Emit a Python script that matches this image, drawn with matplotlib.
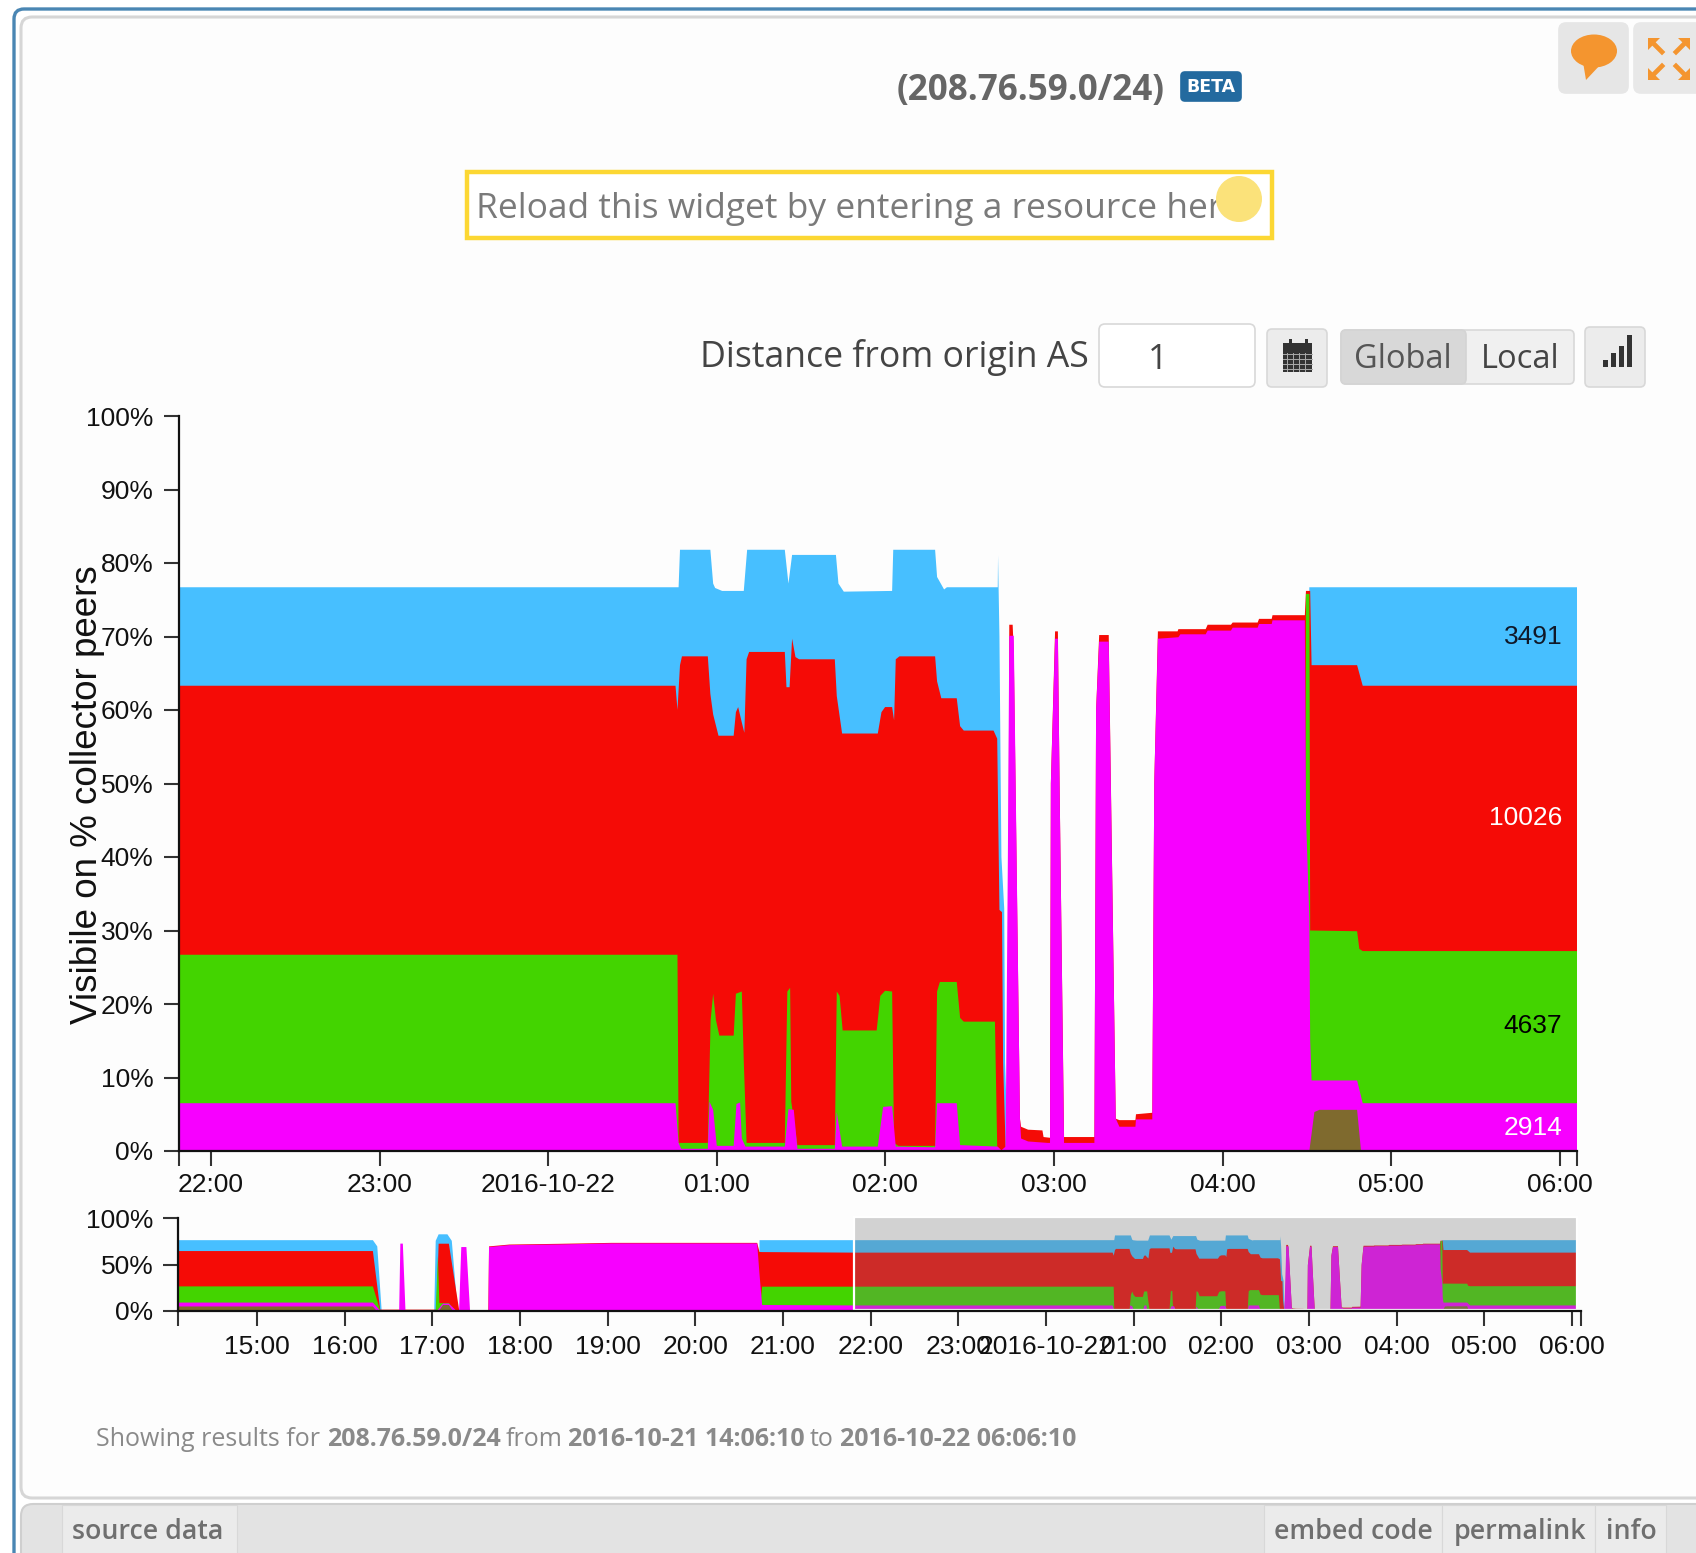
import matplotlib
matplotlib.use("Agg")
import matplotlib.pyplot as plt
from matplotlib.patches import Rectangle, FancyBboxPatch, Circle, Polygon, Ellipse

W, H = 1696, 1553
SANS = "Liberation Sans"
OPEN = "Open Sans"

# All times are minutes relative to 2016-10-22 00:00; all values are cumulative % of peers.
T_START, T_END = -593.83, 366.17
ZOOM_START = -131.6

blue_t = [-593.83, -461, -458, -455, -419, -418, -416, -410, -407, -403, -196.8, -196.4, 46.4, 46.9, 57.7, 58.7, 59.4, 61.9, 69.6, 70.8, 84.2, 85.5, 86.8, 102.4, 103.3, 105.2, 122.4, 122.8, 137.7, 138.4, 140.9, 141.9, 160, 160.1, 160.6, 161.3, 162.3, 162.6, 163.6, 269.3, 270.6, 270.9, 366.17]
blue_v = [76.7, 76.7, 70, 1, 1, 76, 83, 83, 76, 1, 1, 76.7, 76.7, 81.8, 81.8, 77.2, 76.6, 76.2, 76.2, 81.8, 81.8, 77.2, 81.1, 81.1, 77.2, 76.1, 76.2, 81.8, 81.8, 78.1, 76.4, 76.7, 76.7, 81, 70, 40, 33, 12, 0.5, 0.5, 72, 76.7, 76.7]

red_t = [-593.83, -461, -456, -417.5, -416, -409, -402, -400, -382, -381.5, -367.5, -332.6, -297.7, -198, -196.4, -194.6, -131, 45.3, 46, 46.9, 47.6, 56.8, 57.7, 58.7, 60.6, 66, 66.8, 67.6, 68.9, 69.8, 70.6, 71.5, 84.2, 84.8, 85.9, 86.8, 88, 89.3, 102, 102.7, 104.6, 117.3, 118.6, 119.9, 122.4, 123.1, 123.7, 125, 137.7, 138.4, 139.9, 145.4, 146.6, 147.9, 158.5, 159.8, 160.6, 161.5, 161.9, 162.8, 163.6, 164.1, 165.3, 165.7, 167.9, 168.3, 170.8, 175.9, 176.3, 178.6, 178.9, 180.4, 181.4, 182, 183.6, 194.4, 195, 196.1, 199.5, 202, 203.3, 209, 209.2, 215, 215.7, 217, 224, 224.3, 234, 234.7, 243, 243.6, 252.5, 253, 257.5, 257.8, 269.3, 269.7, 271.2, 271.7, 287.9, 289.9, 366.17]
red_v = [65, 65, 2, 2, 72.9, 72.9, 2, 1, 1, 70, 72, 72.8, 73.8, 73.8, 64, 63.9, 63.3, 63.3, 60, 66.1, 67.3, 67.3, 62.2, 59.4, 56.5, 56.5, 59.7, 60.4, 58.3, 56.9, 66.9, 67.9, 67.9, 63.1, 63.1, 69.7, 67.2, 66.9, 66.9, 61.9, 56.8, 56.8, 59.7, 60.4, 60.4, 58.6, 66.9, 67.3, 67.3, 63.9, 61.6, 61.6, 57.8, 57.2, 57.2, 56.1, 32.8, 32.5, 12, 0.5, 0.5, 71.6, 71.6, 68, 4.4, 3.3, 2.9, 2.8, 1.9, 1.8, 50, 70.7, 70.7, 50, 1.9, 1.9, 60, 70.2, 70.2, 4.4, 4.2, 4.2, 5, 5.2, 50, 70.7, 70.7, 71, 71, 71.6, 71.6, 71.9, 71.9, 72.4, 72.4, 72.9, 72.9, 76.2, 76.2, 66.1, 66.1, 63.3, 63.3]

green_t = [-593.83, -461, -456, -418, -416.5, -415.5, -409, -404, -196.4, -194.6, 46, 46.4, 56.8, 57.8, 58.7, 59.7, 60.9, 66, 66.8, 68.9, 69.6, 70.6, 84.2, 85.1, 86.1, 86.5, 88.7, 102, 102.7, 103.7, 104.8, 116.9, 118.2, 119.9, 122.4, 123.1, 124.6, 137.7, 138.4, 139.4, 145.4, 146.6, 147.9, 159, 159.8, 160.6, 269.3, 269.7, 270.9, 271.2, 287.9, 288.7, 289.9, 366.17]
green_v = [27, 27, 1, 1, 60, 9, 9, 0, 0, 26.7, 26.7, 1.1, 1.1, 17.8, 21.4, 17.8, 15.7, 15.7, 21.4, 21.7, 12.2, 1.1, 1.1, 21.7, 22.2, 6.7, 0.8, 0.8, 21.7, 21.1, 16.4, 16.4, 21.1, 21.8, 21.7, 1.1, 0.7, 0.7, 21.7, 23, 23, 18.1, 17.6, 17.6, 0.6, 0.1, 0, 75.8, 75.8, 30, 29.9, 27.5, 27.2, 27.2]

magenta_t = [-593.83, -461, -456, -443, -442.2, -440.5, -438.7, -417, -413, -409, -404, -402, -400.5, -397, -394.5, -381.9, -381.5, -367.5, -332.6, -297.7, -198, -196.4, -194.6, -131, 45.3, 46.4, 47.3, 56.8, 57.4, 58.7, 60, 66, 67, 68.3, 68.9, 70.2, 84.2, 85.5, 87.4, 88.7, 102, 102.7, 104.6, 117.3, 119.2, 122.4, 123.7, 137.7, 138.4, 145.4, 146.6, 160, 161.3, 162.8, 163.6, 164.1, 165.7, 167.9, 168.3, 170.8, 177.8, 178.6, 178.9, 180.4, 181.4, 182, 183.6, 194.4, 195, 196.1, 199.5, 202, 203.3, 209, 209.2, 215, 215.7, 217, 224.3, 225, 234, 234.7, 243, 243.6, 252.5, 253, 257.5, 257.8, 269.3, 269.7, 270.9, 271.2, 271.7, 287.9, 289.9, 366.17]
magenta_v = [9.6, 9.6, 1, 1, 73, 73, 1, 1, 8.5, 8.5, 1, 0.5, 69.3, 69.3, 0.5, 0.5, 69.3, 71.4, 72.1, 73.2, 73.2, 40, 7, 6.5, 6.5, 1.1, 0.3, 0.3, 6.7, 5.6, 0.7, 0.7, 6.4, 6.6, 1.7, 0.6, 0.6, 5.7, 5.6, 0.3, 0.3, 5.3, 0.6, 0.6, 6, 6.1, 0.6, 0.5, 6.5, 6.5, 0.8, 0.6, 0.1, 0.6, 40, 70.1, 70.1, 4.4, 1.7, 1.3, 1.1, 1.1, 50, 69.7, 69.7, 50, 1.1, 1.1, 60, 69.3, 69.3, 4.4, 3.3, 3.3, 4.3, 4.3, 50, 69.7, 69.9, 70.3, 70.3, 70.8, 70.8, 71.2, 71.2, 71.7, 71.7, 72.2, 72.2, 45.6, 31.7, 15, 9.6, 9.6, 6.5, 6.5]

brown_t = [-593.83, -461, -458, -416, -413, -409, -406, 270.9, 272.7, 274.5, 287.9, 289.3, 366.17]
brown_v = [5.4, 5.4, 0, 0, 7, 7, 0, 0, 5.3, 5.6, 5.6, 0, 0]

series_names = ["3491", "10026", "4637", "2914"]
series_colors = ["#47bfff", "#f50b06", "#43d400", "#f700ff"]
series_text = ["#101828", "white", "black", "white"]
label_mid = [70.0, 45.3, 17.0, 3.1]
brown_color = "#7f6a2e"

y_main_ticks = [0, 10, 20, 30, 40, 50, 60, 70, 80, 90, 100]
y_mini_ticks = [0, 50, 100]
tick_minutes = [-120, -60, 0, 60, 120, 180, 240, 300, 360]
tick_labels = ["22:00", "23:00", "2016-10-22", "01:00", "02:00", "03:00", "04:00", "05:00", "06:00"]
mini_minutes = [-540, -480, -420, -360, -300, -240, -180] + tick_minutes
mini_labels = ["15:00", "16:00", "17:00", "18:00", "19:00", "20:00", "21:00"] + tick_labels

BG = "#fdfdfd"
fig = plt.figure(figsize=(W / 100, H / 100), dpi=100, facecolor="white")


def axes_px(l, t, r, b, **kw):
    return fig.add_axes([l / W, 1 - b / H, (r - l) / W, (b - t) / H], **kw)


page = axes_px(0, 0, W, H)
page.set_xlim(0, W)
page.set_ylim(H, 0)
page.axis("off")


def box(x0, y0, x1, y1, fc, ec="#d4d4d4", r=5, lw=1.2, z=2):
    page.add_patch(FancyBboxPatch((x0 + r, y0 + r), x1 - x0 - 2 * r, y1 - y0 - 2 * r,
                                  boxstyle=f"round,pad={r},rounding_size={r}", fc=fc, ec=ec, lw=lw, zorder=z))


# widget frame
box(14, 9, W + 60, H + 60, "white", "#4a86b3", r=10, lw=2.4, z=1)
box(21, 17, W + 60, 1498, BG, "#d6d6d6", r=11, lw=2.2, z=1.2)
box(21, 1504, W + 60, H + 60, "#e3e3e3", "#cfcfcf", r=12, lw=1.5, z=1.3)

# header
page.text(897, 91, "(208.76.59.0/24)", family=OPEN, weight="bold", fontsize=25.2, color="#666666", va="center", ha="left", zorder=5)
box(1181, 72, 1241, 101, "#236a9f", "#236a9f", r=4, z=4)
page.text(1211, 87, "BETA", family="DejaVu Sans", weight="bold", fontsize=12.5, color="white", va="center", ha="center", zorder=5)

# feedback + fullscreen buttons
box(1559, 23, 1628, 93, "#e6e6e6", "#e6e6e6", r=7, z=3)
box(1634, 23, W + 30, 93, "#e8e8e8", "#e8e8e8", r=7, z=3)
page.add_patch(Ellipse((1594, 51), 46, 33, fc="#f4952f", ec="none", zorder=4))
page.add_patch(Polygon([[1583, 62], [1601, 64], [1586, 80]], fc="#f4952f", ec="none", zorder=4))
for cx, cy, dx, dy in [(1656, 46, -1, -1), (1682, 46, 1, -1), (1656, 72, -1, 1), (1682, 72, 1, 1)]:
    page.plot([cx - 6 * dx, cx + 3 * dx], [cy - 6 * dy, cy + 3 * dy], color="#f4952f", lw=3.4, zorder=4)
    page.add_patch(Polygon([[cx + 8 * dx, cy + 8 * dy], [cx - 4 * dx, cy + 8 * dy], [cx + 8 * dx, cy - 4 * dy]],
                           fc="#f4952f", ec="none", zorder=4))

# resource input
page.add_patch(Rectangle((467, 172), 805, 66, fc="white", ec="#fcd733", lw=3.2, zorder=3))
page.text(476, 209, "Reload this widget by entering a resource her", family=OPEN, fontsize=25.5, color="#7a7a7a", va="center", ha="left", zorder=4)
page.add_patch(Circle((1239, 199), 23, fc="#fbe27a", ec="none", zorder=5))

# distance controls
page.text(700, 358, "Distance from origin AS", family=OPEN, fontsize=25.7, color="#444444", va="center", ha="left", zorder=4)
box(1099, 324, 1255, 387, "white", "#d8d8d8", r=6, z=3)
page.text(1158, 360, "1", family=OPEN, fontsize=25, color="#444444", va="center", ha="center", zorder=4)
box(1267, 329, 1327, 387, "#ececec", "#d8d8d8", r=5, z=3)
box(1341, 330, 1574, 384, "#f0f0f0", "#d8d8d8", r=5, z=3)
box(1341, 330, 1466, 384, "#d8d8d8", "#d4d4d4", r=5, z=3.1)
page.text(1403, 359, "Global", family=OPEN, fontsize=23.5, color="#555555", va="center", ha="center", zorder=4)
page.text(1520, 359, "Local", family=OPEN, fontsize=23.5, color="#444444", va="center", ha="center", zorder=4)
box(1585, 327, 1645, 387, "#ececec", "#d8d8d8", r=5, z=3)
page.add_patch(Rectangle((1283, 343), 29, 29, fc="#333333", ec="none", zorder=4))
for rx in (1289, 1305):
    page.add_patch(Rectangle((rx, 339), 2.5, 5, fc="#333333", ec="none", zorder=4))
for gx in range(1287, 1311, 6):
    page.plot([gx, gx], [353, 371], color="#aaaaaa", lw=0.7, zorder=4.1)
for gy in range(354, 371, 5):
    page.plot([1283, 1312], [gy, gy], color="#aaaaaa", lw=0.7, zorder=4.1)
for bx, btop in zip([1603, 1611, 1619, 1627], [360, 353, 346, 335]):
    page.add_patch(Rectangle((bx, btop), 5, 367 - btop, fc="#333333", ec="none", zorder=4))

# footer text
for x, s, w in [(96, "Showing results for", "normal"), (327, "208.76.59.0/24", "bold"), (506, "from", "normal"),
                (568, "2016-10-21 14:06:10", "bold"), (810, "to", "normal"), (840, "2016-10-22 06:06:10", "bold")]:
    page.text(x, 1439, s, family=OPEN, weight=w, fontsize=18, color="#8a8a8a", va="center", ha="left", zorder=4)
for x0, x1, tx, s in [(62, 237, 148, "source data"), (1264, 1442, 1353, "embed code"), (1442, 1595, 1520, "permalink"), (1595, 1666, 1631, "info")]:
    page.add_patch(Rectangle((x0, 1505), x1 - x0, 60, fc="#ebebeb", ec="#d8d8d8", lw=0.8, zorder=3))
    page.text(tx, 1532, s, family=OPEN, weight="semibold", fontsize=19.3, color="#6f6f6f", va="center", ha="center", zorder=4)


def draw_stack(ax):
    arts = []
    for t, v, c in zip([blue_t, red_t, green_t, magenta_t, brown_t],
                       [blue_v, red_v, green_v, magenta_v, brown_v],
                       series_colors + [brown_color]):
        arts.append(ax.fill_between(t, v, 0, color=c, lw=0, zorder=2))
    return arts


def style_axes(ax, xticks, xlabels, yticks, xlim, tickpad):
    ax.set_facecolor("none")
    for s in ("top", "right"):
        ax.spines[s].set_visible(False)
    for s in ("left", "bottom"):
        ax.spines[s].set_linewidth(1.6)
        ax.spines[s].set_color("#111111")
        ax.spines[s].set_zorder(5)
    ax.set_xlim(*xlim)
    ax.set_ylim(0, 100)
    ax.set_xticks(xticks, xlabels)
    ax.set_yticks(yticks, [f"{y}%" for y in yticks])
    ax.set_xticks(list(xlim), minor=True)
    ax.tick_params(axis="both", which="both", length=10.5, width=1.5, color="#333333", labelsize=19, labelcolor="#111111")
    ax.tick_params(axis="x", pad=tickpad)
    ax.tick_params(axis="y", pad=7.5)
    for lab in ax.get_xticklabels() + ax.get_yticklabels():
        lab.set_family(SANS)


# main chart
ax = axes_px(178.5, 416, 1577, 1151)
draw_stack(ax)
style_axes(ax, tick_minutes, tick_labels, y_main_ticks, (ZOOM_START, T_END), 5.5)
page.text(88, 795, "Visibile on % collector peers", family=SANS, fontsize=26.5, color="#111111",
          rotation=90, va="center", ha="center", zorder=6)

for name, mid, col in zip(series_names, label_mid, series_text):
    ax.text(361, mid, name, family=SANS, fontsize=19, color=col, ha="right", va="center", zorder=6)

# overview chart
mini = axes_px(178.3, 1218, 1581, 1311)
parts = draw_stack(mini)
style_axes(mini, mini_minutes, mini_labels, y_mini_ticks, (T_START, T_END), 6.5)
clip_end = 363.4
for p in parts:
    p.set_clip_path(Rectangle((T_START, 0), clip_end - T_START, 101, transform=mini.transData))
mini.add_patch(Rectangle((ZOOM_START, 1.5), clip_end - ZOOM_START, 99.5, fc=(0.46, 0.46, 0.46, 0.31),
                         ec="white", lw=1.6, zorder=3, clip_on=False))

fig.savefig("out.png", dpi=100, facecolor="white")
